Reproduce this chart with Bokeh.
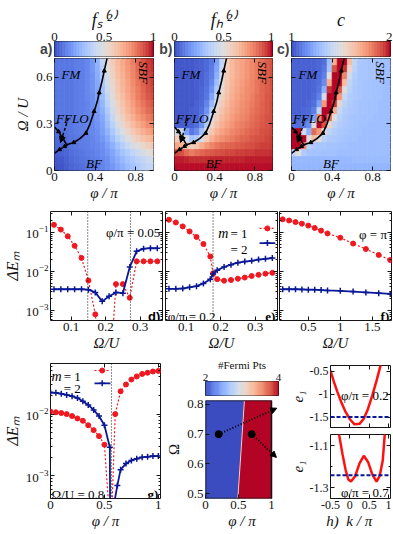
import math
from bokeh.plotting import figure
from bokeh.layouts import row, column
from bokeh.models import (Range1d, LinearAxis, LogAxis, FixedTicker, LogTickFormatter,
                          Label, Span, Arrow, NormalHead, ColumnDataSource)
from bokeh.transform import linear_cmap
from bokeh.embed import file_html
from bokeh.resources import INLINE

SERIF = "Liberation Serif"
SANS = "Liberation Sans"
RED = "#f01820"
BLUE = "#0a1896"
INK = "#151515"

# ---------------- data ----------------
# heat maps: 16 rows (Omega/U from 0.72 at the top down to 0), 20 columns (phi/pi 0 -> 1)
# values are percent of each colour-bar span
fs_rows = [
    [10,10,10,10,11,12,14,18,26,40,52,60,66,71,76,81,86,90,94,96],
    [10,10,10,10,11,12,14,18,25,37,50,58,65,70,75,80,85,89,93,95],
    [10,10,10,10,11,12,14,17,24,35,48,57,64,69,74,79,84,88,92,94],
    [10,10,10,10,11,12,14,17,23,33,46,55,62,68,73,78,83,87,91,93],
    [10,10,10,10,11,12,14,17,22,31,44,53,61,67,72,77,82,86,90,92],
    [10,10,10,10,11,12,14,16,21,29,41,51,59,65,71,76,81,85,89,91],
    [10,10,10,10,11,12,13,16,20,27,38,48,57,63,69,74,79,83,87,89],
    [10,10,10,10,11,12,13,15,19,25,35,45,54,61,67,72,77,81,85,87],
    [9,9,9,10,11,12,13,15,18,23,32,42,51,58,64,69,74,78,82,84],
    [9,9,9,10,11,12,13,14,17,21,29,38,47,54,60,65,70,74,78,80],
    [8,8,9,10,11,12,13,14,16,20,26,34,42,49,55,60,65,69,73,75],
    [7,7,8,9,10,11,12,13,15,18,23,30,37,43,49,54,59,63,66,68],
    [6,6,7,9,10,11,12,13,14,16,20,25,31,37,42,47,51,55,58,60],
    [4,5,6,8,9,10,11,12,13,15,18,22,27,32,36,40,44,47,50,52],
    [3,3,5,7,8,9,10,11,12,14,16,20,24,28,32,35,38,41,44,45],
    [2,2,4,6,7,8,9,10,11,13,15,18,22,25,29,32,35,38,41,42],
]
fh_rows = [
    [3,3,3,3,4,5,7,10,20,40,58,66,70,73,76,79,82,85,88,90],
    [3,3,3,3,4,5,7,11,22,42,59,66,70,73,76,79,82,85,88,90],
    [3,3,3,3,4,5,8,12,25,45,60,66,70,73,76,79,82,85,88,90],
    [3,3,3,3,4,5,8,14,30,50,61,67,71,74,77,80,83,86,88,90],
    [3,3,3,3,4,6,9,17,35,53,62,68,72,75,78,80,83,86,88,90],
    [3,3,3,3,4,6,10,22,42,57,64,69,73,76,78,81,84,86,89,90],
    [3,3,3,3,5,7,13,28,48,60,66,71,74,77,79,82,84,87,89,91],
    [3,3,3,4,5,8,17,36,54,63,68,72,75,78,80,83,85,87,89,91],
    [3,3,3,4,6,11,25,45,59,66,70,74,77,79,81,84,86,88,90,91],
    [5,4,4,5,8,17,36,54,64,69,73,76,79,81,83,85,87,89,90,92],
    [48,42,20,10,15,30,50,62,69,73,76,79,81,83,85,87,88,90,91,92],
    [60,55,45,32,35,48,60,69,74,77,80,82,84,86,87,89,90,91,92,93],
    [72,68,62,58,62,70,76,80,83,85,86,87,88,89,90,91,92,93,93,94],
    [92,90,85,82,84,86,88,89,90,91,92,92,93,93,94,94,95,95,95,96],
    [98,98,97,96,96,96,96,97,97,97,97,97,97,97,98,98,98,98,98,98],
    [99,99,99,99,99,99,99,99,99,99,99,99,99,99,99,99,99,99,99,99],
]
c_rows = [
    [5,5,5,5,5,6,8,30,70,100,100,65,40,34,33,32,32,31,31,30],
    [5,5,5,5,5,6,10,32,90,100,95,55,38,33,33,32,32,31,31,30],
    [5,5,5,5,5,7,12,50,100,100,80,45,36,33,33,32,32,31,31,30],
    [5,5,5,5,6,8,15,70,100,100,65,40,35,33,32,32,31,31,30,30],
    [5,5,5,5,6,9,25,95,100,90,50,38,34,33,32,32,31,31,30,30],
    [5,5,5,5,7,12,45,100,100,75,42,36,34,33,32,32,31,31,30,30],
    [5,5,5,6,8,20,75,100,95,55,38,35,33,32,32,31,31,30,30,30],
    [5,5,6,7,12,40,100,100,70,42,36,34,33,32,32,31,31,30,30,30],
    [6,6,7,9,20,80,100,85,50,38,35,33,32,32,31,31,30,30,30,30],
    [8,8,10,15,50,100,90,55,40,36,34,33,32,31,31,30,30,30,30,30],
    [100,100,45,25,85,75,50,40,36,34,33,32,31,31,30,30,30,30,30,30],
    [100,100,100,50,65,50,38,35,34,33,32,31,31,30,30,30,30,30,30,30],
    [100,100,80,38,34,33,33,32,32,31,31,30,30,30,30,30,30,30,30,30],
    [40,50,35,32,32,32,31,31,31,30,30,30,30,30,30,30,30,30,30,30],
    [28,28,28,28,28,28,28,28,28,28,28,28,29,29,29,29,29,29,29,29],
    [27,27,27,27,27,27,27,27,27,27,27,27,27,27,27,27,27,27,27,27],
]
fs_span = (0.0, 1.0)
fh_span = (0.0, 1.0)
c_span = (1.0, 2.0)
grid_phi_max = 1.0
grid_om_max = 0.72

# phase boundaries (phi/pi, Omega/U)
sbf_phi = [0.12, 0.19, 0.25, 0.31, 0.35, 0.39, 0.42, 0.44, 0.47, 0.49, 0.51, 0.525]
sbf_om = [0.165, 0.18, 0.205, 0.24, 0.30, 0.38, 0.44, 0.50, 0.58, 0.64, 0.70, 0.74]
fflo_phi = [0.0, 0.04, 0.08, 0.12]
fflo_om = [0.28, 0.25, 0.21, 0.165]
bf_phi = [0.0, 0.05, 0.10, 0.14]
bf_om = [0.11, 0.135, 0.155, 0.17]

# d) phi/pi = 0.05
d_om = [0.05, 0.07, 0.09, 0.11, 0.13, 0.15, 0.17, 0.19, 0.21, 0.23, 0.25, 0.27, 0.29, 0.31, 0.33, 0.35]
d_m1 = [0.155, 0.117, 0.079, 0.045, 0.022, 0.0058, 0.00079, 1e-5, 1e-5, 0.0047, 0.0047, 0.0021,
        0.018, 0.018, 0.018, 0.018]
d_m2 = [0.00347, 0.00347, 0.00347, 0.00347, 0.00347, 0.00339, 0.00288, 0.0017, 0.00229, 0.00288,
        0.00275, 0.0129, 0.0324, 0.038, 0.039, 0.039]
d_trans = [0.148, 0.272]
# e) phi/pi = 0.2
e_om = [0.05, 0.07, 0.09, 0.11, 0.13, 0.15, 0.17, 0.178, 0.19, 0.21, 0.23, 0.25, 0.27, 0.29, 0.31, 0.33, 0.35]
e_m1 = [0.209, 0.178, 0.141, 0.105, 0.0759, 0.0501, 0.024, 0.0089, 0.0063, 0.00575, 0.006, 0.00646,
        0.00692, 0.00759, 0.00813, 0.00871, 0.00912]
e_m2 = [0.00355, 0.00355, 0.00363, 0.00389, 0.00417, 0.0049, 0.0063, 0.0085, 0.0107, 0.0129, 0.0148,
        0.0166, 0.0178, 0.0186, 0.02, 0.0209, 0.0219]
e_trans = [0.178]
# f) phi = pi
f_om = [0.1, 0.2, 0.3, 0.4, 0.5, 0.6, 0.7, 0.8, 1.0, 1.2, 1.4, 1.6, 1.78]
f_m1 = [0.214, 0.2, 0.182, 0.166, 0.148, 0.129, 0.11, 0.0933, 0.0724, 0.0513, 0.0372, 0.0263, 0.0195]
f_m2 = [0.00347, 0.00347, 0.00347, 0.00343, 0.00339, 0.00339, 0.00331, 0.00324, 0.00316, 0.00302,
        0.00288, 0.00275, 0.00263]
# g) Omega/U = 0.8
g_phi1 = [0.0, 0.05, 0.1, 0.15, 0.2, 0.25, 0.3, 0.35, 0.4, 0.45, 0.5, 0.56,
          0.6, 0.65, 0.7, 0.75, 0.8, 0.85, 0.9, 0.95, 1.0]
g_m1 = [0.011, 0.0107, 0.0104, 0.01, 0.0093, 0.0085, 0.0078, 0.0066, 0.0055, 0.0044, 0.0032, 0.0001,
        0.01, 0.0234, 0.0302, 0.0363, 0.0407, 0.0447, 0.0468, 0.049, 0.0501]
g_phi2 = [0.0, 0.05, 0.1, 0.15, 0.2, 0.25, 0.3, 0.35, 0.4, 0.45, 0.5, 0.55, 0.56, 0.585,
          0.62, 0.65, 0.7, 0.75, 0.8, 0.85, 0.9, 0.95, 1.0]
g_m2 = [0.0224, 0.0221, 0.0214, 0.0204, 0.0195, 0.0182, 0.0162, 0.0141, 0.0117, 0.0093, 0.0066, 0.0029,
        1e-6, 0.00032, 0.0007, 0.00126, 0.00158, 0.00178, 0.0019, 0.002, 0.00204, 0.00209, 0.00209]
g_trans = [0.565]
# h) number of Fermi points and lowest band
fp_om = [0.484, 0.813]
fp_phi = [0.49, 0.59]          # boundary between 2 and 4 Fermi points
fp_levels = (2, 4)
h_phis = [0.2, 0.7]
h_om = [0.7, 0.7]
k_a = [-0.5, -0.41, -0.32, -0.22, -0.11, 0.0, 0.12, 0.25, 0.36, 0.47, 0.58, 0.69, 0.78, 0.82]
e_a = [-0.48, -0.73, -0.95, -1.17, -1.38, -1.54, -1.65, -1.64, -1.53, -1.31, -1.02, -0.70, -0.41, -0.28]
mu_a = -1.49
k_b = [-0.3, -0.275, -0.19, -0.11, -0.04, 0.03, 0.14, 0.25, 0.36, 0.47, 0.58, 0.69, 0.77, 0.85, 0.9, 0.92]
e_b = [-1.0, -1.051, -1.14, -1.214, -1.26, -1.27, -1.243, -1.184, -1.148, -1.177, -1.236, -1.27,
       -1.243, -1.17, -1.05, -1.0]
mu_b = -1.24

# ---------------- palette (coolwarm) ----------------
CW = [(59,76,192),(68,90,204),(77,104,215),(87,117,225),(98,130,234),(108,142,241),(119,154,247),
      (130,165,251),(141,176,254),(152,185,255),(163,194,255),(174,201,253),(184,208,249),
      (194,213,244),(204,217,238),(213,219,230),(221,221,221),(229,216,209),(236,211,197),
      (241,204,185),(245,196,173),(247,187,160),(247,177,148),(247,166,135),(244,154,123),
      (241,141,111),(236,127,99),(229,112,88),(222,96,77),(213,80,66),(203,62,56),(192,40,47),(180,4,38)]


def make_pal(n=256):
    out = []
    for i in range(n):
        t = i / (n - 1) * (len(CW) - 1)
        j = min(int(t), len(CW) - 2)
        f = t - j
        c = [round(CW[j][k] * (1 - f) + CW[j + 1][k] * f) for k in range(3)]
        out.append("#%02x%02x%02x" % tuple(c))
    return out


PAL = make_pal()
TICK = 13


# ---------------- helpers ----------------
def mkfig(w, h, xr, yr, bl, br, bt, bb, ylog=False, axes=True, outline=True):
    kw = {}
    if not axes:
        kw = dict(x_axis_location=None, y_axis_location=None)
    p = figure(width=w, height=h, x_range=Range1d(*xr), y_range=Range1d(*yr),
               y_axis_type="log" if ylog else "linear", toolbar_location=None,
               output_backend="svg", title=None, min_border_left=bl, min_border_right=br,
               min_border_top=bt, min_border_bottom=bb, **kw)
    p.xgrid.visible = False
    p.ygrid.visible = False
    p.outline_line_color = INK if outline else None
    p.outline_line_width = 1
    p.background_fill_color = "white"
    p.border_fill_color = "white"
    return p


def tstyle(ax, labels=True, size=TICK):
    ax.major_tick_in = 4
    ax.major_tick_out = 0
    ax.minor_tick_in = 2
    ax.minor_tick_out = 0
    ax.axis_line_color = None
    ax.major_tick_line_color = INK
    ax.minor_tick_line_color = INK
    ax.major_label_text_font = SERIF
    if labels:
        ax.major_label_text_color = "#111111"
        ax.major_label_text_font_size = f"{size}px"
        ax.major_label_standoff = 2
    else:
        ax.major_label_text_color = None
        ax.major_label_text_font_size = "1px"
        ax.major_label_standoff = 0


def alabel(ax, text, size=15, style="italic", standoff=2):
    ax.axis_label = text
    ax.axis_label_text_font = SERIF
    ax.axis_label_text_font_size = f"{size}px"
    ax.axis_label_text_font_style = style
    ax.axis_label_text_color = "#111111"
    ax.axis_label_standoff = standoff


LOG_MAJOR = [1e-3, 1e-2, 1e-1]
LOG_MINOR = [m * 10.0 ** e for e in (-4, -3, -2, -1) for m in range(2, 10)]


def setup_axes(p, xt, yt, xover=None, yover=None, xlab=True, ylab=True, ylog=False,
               mirror_x=True, mirror_y=True, yminor=None, size=TICK):
    xa = p.below[0]
    ya = p.left[0]
    xa.ticker = FixedTicker(ticks=xt)
    tstyle(xa, xlab, size)
    if xover and xlab:
        xa.major_label_overrides = xover
    if ylog:
        ya.ticker = FixedTicker(ticks=LOG_MAJOR, minor_ticks=LOG_MINOR)
        if ylab:
            ya.formatter = LogTickFormatter()
        else:
            ya.major_label_overrides = {t: "" for t in LOG_MAJOR}
    else:
        ya.ticker = FixedTicker(ticks=yt, minor_ticks=yminor or [])
    tstyle(ya, ylab, size)
    if yover and ylab:
        ya.major_label_overrides = yover
    if mirror_x:
        ax = LinearAxis(ticker=FixedTicker(ticks=xt))
        tstyle(ax, False)
        p.add_layout(ax, "above")
    if mirror_y:
        if ylog:
            ax = LogAxis(ticker=FixedTicker(ticks=LOG_MAJOR, minor_ticks=LOG_MINOR),
                         major_label_overrides={t: "" for t in LOG_MAJOR})
        else:
            ax = LinearAxis(ticker=FixedTicker(ticks=yt, minor_ticks=yminor or []))
        tstyle(ax, False)
        p.add_layout(ax, "right")
    return xa, ya


def fx(p, f):
    return p.x_range.start + f * (p.x_range.end - p.x_range.start)


def fy(p, f, log=False):
    a, b = p.y_range.start, p.y_range.end
    if log:
        la, lb = math.log10(a), math.log10(b)
        return 10 ** (la + f * (lb - la))
    return a + f * (b - a)


def lab(p, x, y, text, size=13, style="normal", font=SERIF, angle=0.0, align="left",
        base="alphabetic", color="black"):
    p.add_layout(Label(x=x, y=y, text=text, angle=angle, text_align=align, text_baseline=base,
                       text_font=font, text_font_size=f"{size}px", text_font_style=style,
                       text_color=color))


def cells(p, rows, span, xmax, ymax):
    nr, nc = len(rows), len(rows[0])
    dx, dy = xmax / nc, ymax / nr
    L, R, B, T, V = [], [], [], [], []
    for i, r in enumerate(rows):
        for j, v in enumerate(r):
            L.append(j * dx); R.append((j + 1) * dx)
            T.append(ymax - i * dy); B.append(ymax - (i + 1) * dy)
            V.append(span[0] + (span[1] - span[0]) * v / 100.0)
    src = ColumnDataSource(dict(l=L, r=R, b=B, t=T, v=V))
    cm = linear_cmap("v", PAL, span[0], span[1])
    p.quad(left="l", right="r", bottom="b", top="t", source=src, fill_color=cm,
           line_color=cm, line_width=0.7)


def cbar(w, h, bl, br, bt, bb, span, ticks, over, title, tsize=18, tstyle_="italic",
         size=TICK, tag=None):
    p = mkfig(w, h, span, (0, 1), bl, br, bt, bb, axes=False)
    n = 64
    edges = [span[0] + (span[1] - span[0]) * i / n for i in range(n + 1)]
    src = ColumnDataSource(dict(l=edges[:-1], r=edges[1:],
                                v=[(edges[i] + edges[i + 1]) / 2 for i in range(n)]))
    cm = linear_cmap("v", PAL, span[0], span[1])
    p.quad(left="l", right="r", bottom=0, top=1, source=src, fill_color=cm, line_color=cm,
           line_width=0.6)
    ax = LinearAxis(ticker=FixedTicker(ticks=ticks), major_label_overrides=over)
    tstyle(ax, True, size)
    ax.major_tick_in = 0
    ax.major_label_standoff = 1
    alabel(ax, title, tsize, tstyle_, 0)
    p.add_layout(ax, "above")
    if tag:
        ya = LinearAxis(ticker=FixedTicker(ticks=[0.5]), major_label_overrides={0.5: tag})
        ya.major_tick_in = 0
        ya.major_tick_out = 0
        ya.minor_tick_in = 0
        ya.minor_tick_out = 0
        ya.axis_line_color = None
        ya.major_label_text_font = SANS
        ya.major_label_text_font_style = "bold"
        ya.major_label_text_font_size = "14px"
        ya.major_label_standoff = 2
        ya.major_label_orientation = "horizontal"
        p.add_layout(ya, "left")
    return p


def heat(rows, span, w, bl, br, ylabels):
    p = mkfig(w, 148, (0, 0.975), (0, 0.72), bl, br, 1, 35)
    cells(p, rows, span, grid_phi_max, grid_om_max)
    xa, ya = setup_axes(p, [0, 0.4, 0.8], [0, 0.3, 0.6],
                        xover={0: "0", 0.4: "0.4", 0.8: "0.8"},
                        yover={0: "0", 0.3: "0.3", 0.6: "0.6"}, ylab=ylabels)
    alabel(xa, "φ / π", 15, "italic", 1)
    if ylabels:
        alabel(ya, "Ω / U", 15, "italic", 2)
    p.line(sbf_phi, sbf_om, line_color="black", line_width=1.6)
    p.scatter(sbf_phi[1:-1:2], sbf_om[1:-1:2], marker="triangle", size=4, color="black")
    p.line(fflo_phi, fflo_om, line_color="black", line_width=1.6)
    p.scatter(fflo_phi[1:3], fflo_om[1:3], marker="triangle", size=4, color="black")
    p.line(bf_phi, bf_om, line_color="black", line_width=1.6, line_dash="4 2")
    p.scatter(bf_phi[1:3], bf_om[1:3], marker="triangle", size=4, color="black")
    p.add_layout(Arrow(end=NormalHead(size=6, fill_color="black", line_color="black"),
                       x_start=0.135, y_start=0.335, x_end=0.06, y_end=0.18,
                       line_color="black", line_width=1.5, line_dash="3 2"))
    lab(p, 0.07, 0.615, "FM", 13, "italic")
    lab(p, 0.015, 0.335, "FFLO", 13, "italic")
    lab(p, 0.31, 0.045, "BF", 13, "italic")
    lab(p, 0.875, 0.70, "SBF", 13, "italic", angle=-math.pi / 2, base="middle")
    return p


# ---------------- row 1 ----------------
cb_a = cbar(156, 57, 54, 3, 41, 1, fs_span, [0, 0.5, 1], {0: "0", 0.5: "0.5", 1: "1"},
            "fₛ⁽²⁾", tag="a)")
cb_b = cbar(118, 57, 17, 2, 41, 1, fh_span, [0, 0.5, 1], {0: "0", 0.5: "0.5", 1: "1"},
            "fₕ⁽²⁾", tag="b)")
cb_c = cbar(118, 57, 16, 2, 41, 1, c_span, [1, 2], {1: "1", 2: "2"}, "c", tag="c)")

ha = heat(fs_rows, fs_span, 156, 41, 2, True)
hb = heat(fh_rows, fh_span, 118, 2, 2, False)
hc = heat(c_rows, c_span, 118, 2, 2, False)

# ---------------- row 2 ----------------
YL = (5.5e-4, 0.34)


def m1(p, x, y):
    p.line(x, y, line_color=RED, line_width=1.2, line_dash="2 2")
    p.scatter(x, y, marker="circle", size=5, color=RED)


def m2(p, x, y):
    p.line(x, y, line_color=BLUE, line_width=1.8)
    p.scatter(x, y, marker="cross", size=6, line_color=BLUE, line_width=1.5)


def dpanel(w, bl, br, xr, xt, xover, ylab_on):
    p = mkfig(w, 150, xr, YL, bl, br, 6, 35, ylog=True)
    xa, ya = setup_axes(p, xt, None, xover=xover, ylog=True, ylab=ylab_on)
    alabel(xa, "Ω/U", 15, "italic", 1)
    if ylab_on:
        alabel(ya, "ΔEₘ", 16, "italic", 2)
    return p


xo_de = {0.1: "0.1", 0.2: "0.2", 0.3: "0.3"}
pd = dpanel(164, 50, 2, (0.04, 0.365), [0.1, 0.2, 0.3], xo_de, True)
pe = dpanel(114, 1, 1, (0.04, 0.365), [0.1, 0.2, 0.3], xo_de, False)
pf = dpanel(114, 1, 1, (0.05, 1.8), [0.5, 1, 1.5], {0.5: "0.5", 1: "1", 1.5: "1.5"}, False)

for x in d_trans:
    pd.add_layout(Span(location=x, dimension="height", line_color=INK, line_dash="1 2", line_width=1))
for x in e_trans:
    pe.add_layout(Span(location=x, dimension="height", line_color=INK, line_dash="1 2", line_width=1))
m1(pd, d_om, d_m1); m2(pd, d_om, d_m2)
m1(pe, e_om, e_m1); m2(pe, e_om, e_m2)
m1(pf, f_om, f_m1); m2(pf, f_om, f_m2)

lab(pd, fx(pd, 0.98), fy(pd, 0.81, True), "φ/π = 0.05", 13, align="right")
lab(pd, fx(pd, 0.98), fy(pd, 0.04, True), "d)", 13, "bold", font=SANS, align="right")

lab(pe, fx(pe, 0.47), fy(pe, 0.80, True), "m", 14, "italic")
lab(pe, fx(pe, 0.58), fy(pe, 0.80, True), "= 1", 13)
lab(pe, fx(pe, 0.58), fy(pe, 0.655, True), "= 2", 13)
lx = [fx(pe, 0.84), fx(pe, 0.98)]
pe.line(lx, [fy(pe, 0.845, True)] * 2, line_color=RED, line_width=1.2, line_dash="2 2")
pe.scatter([fx(pe, 0.91)], [fy(pe, 0.845, True)], size=5, color=RED)
pe.line(lx, [fy(pe, 0.71, True)] * 2, line_color=BLUE, line_width=1.8)
pe.scatter([fx(pe, 0.91)], [fy(pe, 0.71, True)], marker="cross", size=6,
           line_color=BLUE, line_width=1.5)
lab(pe, fx(pe, 0.02), fy(pe, 0.04, True), "φ/π = 0.2", 13)
lab(pe, fx(pe, 0.98), fy(pe, 0.04, True), "e)", 13, "bold", align="right")

lab(pf, fx(pf, 0.96), fy(pf, 0.79, True), "φ = π", 13, align="right")
lab(pf, fx(pf, 0.98), fy(pf, 0.04, True), "f)", 13, "bold", align="right")

# ---------------- row 3 ----------------
pg = mkfig(163, 178, (0.0, 1.02), (4.3e-4, 0.066), 47, 3, 8, 35, ylog=True)
gxa, gya = setup_axes(pg, [0, 0.5, 1], None, xover={0: "0", 0.5: "0.5", 1: "1"}, ylog=True)
alabel(gxa, "φ / π", 15, "italic", 1)
alabel(gya, "ΔEₘ", 16, "italic", 2)
for x in g_trans:
    pg.add_layout(Span(location=x, dimension="height", line_color=INK, line_dash="1 2", line_width=1))
m1(pg, g_phi1, g_m1)
m2(pg, g_phi2, g_m2)
lab(pg, fx(pg, 0.01), fy(pg, 0.905, True), "m", 14, "italic")
lab(pg, fx(pg, 0.12), fy(pg, 0.905, True), "= 1", 13)
lab(pg, fx(pg, 0.12), fy(pg, 0.815, True), "= 2", 13)
gx = [fx(pg, 0.40), fx(pg, 0.545)]
pg.line(gx, [fy(pg, 0.948, True)] * 2, line_color=RED, line_width=1.2, line_dash="2 2")
pg.scatter([fx(pg, 0.47)], [fy(pg, 0.948, True)], size=5, color=RED)
pg.line(gx, [fy(pg, 0.853, True)] * 2, line_color=BLUE, line_width=1.8)
pg.scatter([fx(pg, 0.47)], [fy(pg, 0.853, True)], marker="cross", size=6, line_color=BLUE,
           line_width=1.5)
lab(pg, fx(pg, 0.01), fy(pg, 0.03, True), "Ω/U = 0.8", 13)
lab(pg, fx(pg, 0.98), fy(pg, 0.03, True), "g)", 13, "bold", align="right")

# h) left: Fermi points map
cb_h = cbar(123, 41, 40, 8, 25, 1, fp_levels, [2, 4], {2: "2", 4: "4"}, "#Fermi Pts",
            tsize=11, tstyle_="normal", size=11)

hh = mkfig(123, 137, (0.0, 83 / 75), (fp_om[0], fp_om[1]), 40, 0, 4, 35, outline=False)
hxa, hya = setup_axes(hh, [0, 0.5, 1], [0.5, 0.6, 0.7, 0.8], xover={0: "0", 0.5: "0.5", 1: "1"},
                      mirror_x=False, mirror_y=False)
alabel(hxa, "φ / π", 15, "italic", 1)
alabel(hya, "Ω", 15, "normal", 2)
c_lo, c_hi = PAL[0], PAL[-1]
hh.patch([0, fp_phi[0], fp_phi[1], 0], [fp_om[0], fp_om[0], fp_om[1], fp_om[1]],
         fill_color=c_lo, line_color=c_lo)
hh.patch([fp_phi[0], 1, 1, fp_phi[1]], [fp_om[0], fp_om[0], fp_om[1], fp_om[1]],
         fill_color=c_hi, line_color=c_hi)
hh.line(fp_phi, fp_om, line_color="#e6d6d6", line_width=1)
hh.quad(left=0, right=1, bottom=fp_om[0], top=fp_om[1], fill_color=None, line_color=INK,
        line_width=1.6)
hh.scatter(h_phis, h_om, size=7, color="black")
for (x0, y0), (x1, y1) in zip(zip(h_phis, h_om), [(1.08, 0.787), (1.075, 0.622)]):
    hh.add_layout(Arrow(end=NormalHead(size=6, fill_color="black", line_color="black"),
                        x_start=x0, y_start=y0, x_end=x1, y_end=y1, line_color="black",
                        line_width=2, line_dash="1 2"))

# h) right: band structures
KX = (-0.5, 1.05)
ht = mkfig(106, 76, KX, (-1.72, -0.37), 35, 2, 10, 4)
txa, tya = setup_axes(ht, [-0.5, 0, 0.5, 1], [-1.5, -1, -0.5], xlab=False,
                      yover={-1.5: "-1.5", -1: "-1", -0.5: "-0.5"}, size=12)
alabel(tya, "e₁", 15, "italic", 1)
ht.add_layout(Span(location=mu_a, dimension="width", line_color=BLUE, line_width=2, line_dash="4 2"))
ht.line(k_a, e_a, line_color="#ff1010", line_width=2.5)
lab(ht, fx(ht, 0.97), fy(ht, 0.52), "φ/π = 0.2", 13, align="right")

hbm = mkfig(106, 102, KX, (-1.35, -1.047), 35, 2, 3, 35)
bxa, bya = setup_axes(hbm, [-0.5, 0, 0.5, 1], [-1.3, -1.1], yminor=[-1.2],
                      xover={-0.5: "-0.5", 0: "0", 0.5: "0.5", 1: "1"},
                      yover={-1.3: "-1.3", -1.1: "-1.1"}, size=12)
alabel(bya, "e₁", 15, "italic", 1)
alabel(bxa, "h)\u2002k / π\u2003\u2002", 15, "italic", 1)
hbm.add_layout(Span(location=mu_b, dimension="width", line_color=BLUE, line_width=2, line_dash="4 2"))
hbm.line(k_b, e_b, line_color="#ff1010", line_width=2.5)
lab(hbm, fx(hbm, 0.97), fy(hbm, 0.09), "φ/π = 0.7", 13, align="right")

layout = column(
    row(column(cb_a, ha), column(cb_b, hb), column(cb_c, hc)),
    row(pd, pe, pf),
    row(pg, column(cb_h, hh), column(ht, hbm)),
)

open("out.html", "w").write(file_html(layout, INLINE))
